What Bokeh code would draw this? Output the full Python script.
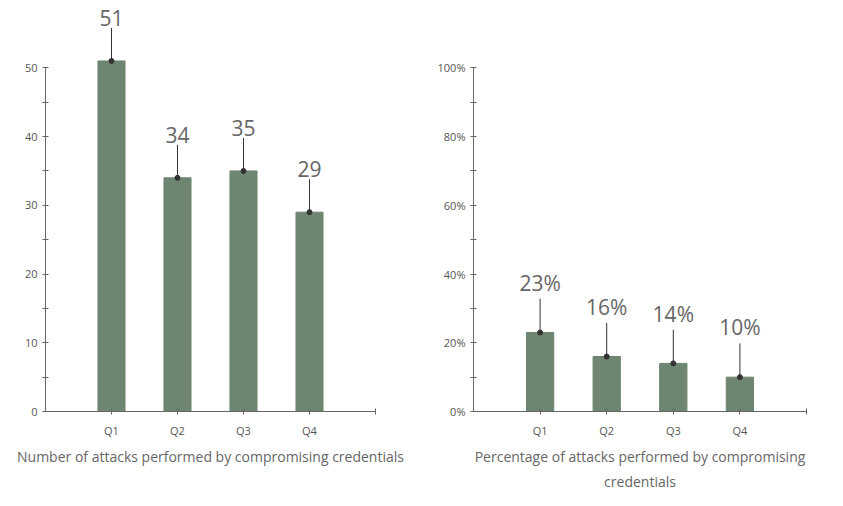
from bokeh.plotting import figure
from bokeh.layouts import row
from bokeh.models import Title, FixedTicker, Range1d
from bokeh.core.properties import value
from bokeh.embed import file_html
from bokeh.resources import INLINE

quarters = ["Q1", "Q2", "Q3", "Q4"]
attacks = [51, 34, 35, 29]
percent = [23, 16, 14, 10]
pos = [1, 2, 3, 4]

BAR = "#6e8571"
AX = "#666666"
FONT = "Open Sans"
FONT_V = value(FONT)

def make(vals, ymax, ytop, ticks, minors, lead, fmt, title, w, bl, br):
    p = figure(width=w, height=490, output_backend="svg", toolbar_location=None,
               x_range=Range1d(0, 5), y_range=Range1d(0, ytop),
               min_border_left=bl, min_border_right=br, min_border_top=0, min_border_bottom=30)
    p.outline_line_color = None
    p.xgrid.visible = False
    p.ygrid.visible = False
    p.vbar(x=pos, top=vals, width=0.41, color=BAR)
    p.segment(x0=pos, y0=vals, x1=pos, y1=[v + lead for v in vals], color="#333333", line_width=1)
    p.scatter(x=pos, y=vals, size=5, color="#333333")
    p.text(x=pos, y=[v + lead for v in vals], text=[fmt(v) for v in vals],
           text_align="center", text_baseline="bottom", y_offset=-2,
           text_font_size="21px", text_color="#666666", text_font=FONT_V)
    for ax in (p.xaxis[0], p.yaxis[0]):
        ax.axis_line_color = AX
        ax.major_tick_line_color = AX
        ax.minor_tick_line_color = AX
        ax.major_tick_in = 3
        ax.major_tick_out = 3
        ax.minor_tick_in = 3
        ax.minor_tick_out = 3
        ax.major_label_text_font = FONT
        ax.major_label_text_font_size = "11px"
        ax.major_label_text_color = "#555555"
    p.yaxis.bounds = (0, ymax)
    p.yaxis.ticker = FixedTicker(ticks=ticks, minor_ticks=minors)
    p.yaxis.major_label_overrides = {t: fmt(t) for t in ticks}
    p.xaxis.bounds = (0, 5)
    p.xaxis.ticker = FixedTicker(ticks=[1, 2, 3, 4, 5], minor_ticks=[])
    p.xaxis.major_label_overrides = {1: "Q1", 2: "Q2", 3: "Q3", 4: "Q4", 5: ""}
    p.xaxis.major_label_standoff = 8
    for i, line in enumerate(title):
        t = Title(text=line, align="center", text_font=FONT, text_font_size="14px",
                  text_font_style="normal", text_color="#666666",
                  standoff=(8 if i == 0 else 0))
        p.add_layout(t, "below")
    return p

p1 = make(attacks, 50, 59.8, [0, 10, 20, 30, 40, 50], [5, 15, 25, 35, 45], 4.8,
          lambda v: str(int(v)), ["Number of attacks performed by compromising credentials"], 423, 45, 48)
p2 = make(percent, 100, 119.6, [0, 20, 40, 60, 80, 100], [10, 30, 50, 70, 90], 9.8,
          lambda v: f"{int(v)}%", ["Percentage of attacks performed by compromising", "credentials"], 412, 50, 29)

layout = row(p1, p2)
open("out.html", "w").write(file_html(layout, INLINE))
